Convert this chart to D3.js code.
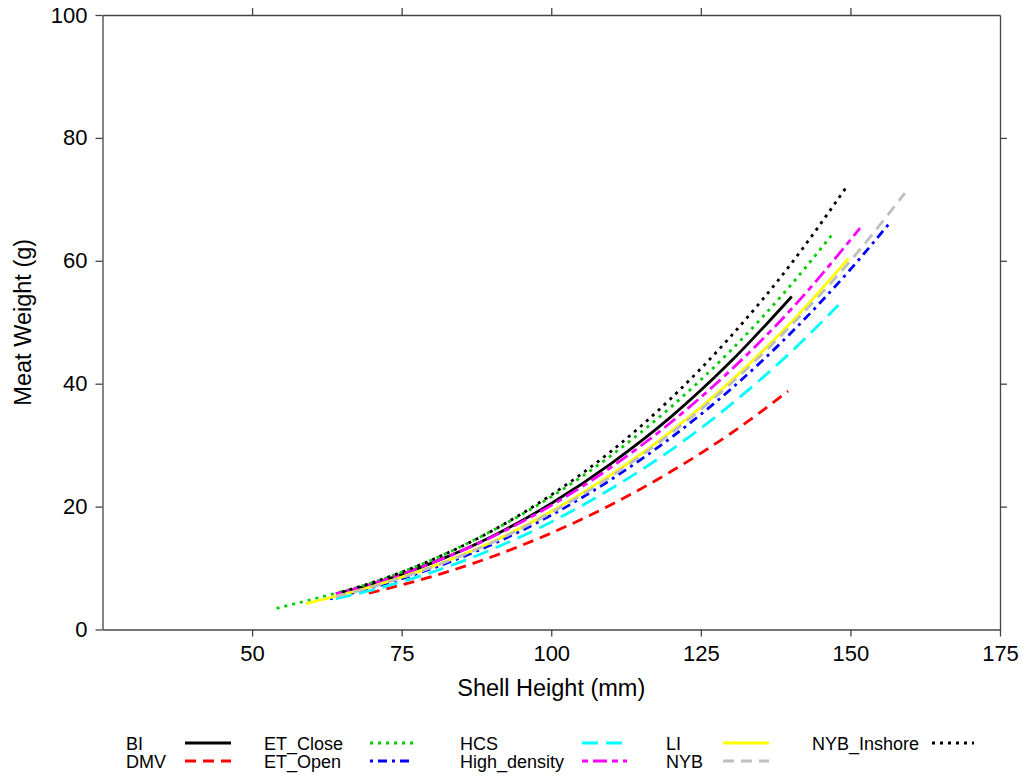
<!DOCTYPE html>
<html>
<head>
<meta charset="utf-8">
<script src="https://cdn.jsdelivr.net/npm/d3@7"></script>
<style>
  body { margin: 0; background: #fff; }
  text { font-family: "Liberation Sans", Arial, sans-serif; fill: #000; }
</style>
</head>
<body>
<div id="chart"></div>
<script>
// Séries : hauteur de coquille (mm) et poids de chair (g)
const groups = ["BI", "DMV", "ET_Close", "ET_Open", "HCS", "High_density", "LI", "NYB", "NYB_Inshore"];

const biH = [64, 70, 80, 90, 100, 110, 120, 130, 140.2];
const biW = [5.8, 7.35, 10.8, 15.1, 20.5, 27.0, 34.6, 43.6, 54.2];

const dmvH = [69.5, 80, 90, 100, 110, 120, 130, 139.6];
const dmvW = [5.9, 8.6, 11.8, 15.7, 20.3, 25.7, 31.9, 38.8];

const etCloseH = [54.1, 60, 70, 80, 90, 100, 110, 120, 130, 140, 146.8];
const etCloseW = [3.45, 4.9, 7.6, 11.3, 16.0, 21.6, 28.3, 36.2, 45.4, 56.0, 64.1];

const etOpenH = [63, 70, 80, 90, 100, 110, 120, 130, 140, 150, 156.6];
const etOpenW = [5.0, 6.8, 9.9, 13.8, 18.6, 24.4, 31.2, 39.1, 48.2, 58.6, 66.2];

const hcsH = [64, 70, 80, 90, 100, 110, 120, 130, 140, 148];
const hcsW = [5.0, 6.4, 9.3, 13.0, 17.5, 22.9, 29.2, 36.6, 45.1, 52.8];

const highDensityH = [64, 70, 80, 90, 100, 110, 120, 130, 140, 151.6];
const highDensityW = [5.8, 7.4, 10.8, 15.0, 20.2, 26.4, 33.7, 42.2, 52.0, 65.3];

const liH = [59, 70, 80, 90, 100, 110, 120, 130, 140, 149.7];
const liW = [4.2, 7.0, 10.2, 14.2, 19.2, 25.2, 32.2, 40.4, 49.9, 60.4];

const nybH = [64, 70, 80, 90, 100, 110, 120, 130, 140, 150, 159.1];
const nybW = [5.35, 6.9, 10.1, 14.1, 19.0, 24.9, 31.9, 40.0, 49.4, 60.0, 71.0];

const nybInshoreH = [65, 70, 80, 90, 100, 110, 120, 130, 140, 149.4];
const nybInshoreW = [6.1, 7.6, 11.3, 16.0, 21.9, 29.0, 37.6, 47.7, 59.4, 72.1];

const xTicks = [50, 75, 100, 125, 150, 175];
const yTicks = [0, 20, 40, 60, 80, 100];

const colors = ["#000000", "#ff0000", "#00cd00", "#0000ff", "#00ffff", "#ff00ff", "#ffff00", "#bebebe", "#000000"];
const dashes = ["none", "11,7", "3,5", "3,5,9,5", "16,8", "6,5,14,5", "none", "11,7", "3,5"];

const series = [
  [biH, biW], [dmvH, dmvW], [etCloseH, etCloseW], [etOpenH, etOpenW], [hcsH, hcsW],
  [highDensityH, highDensityW], [liH, liW], [nybH, nybW], [nybInshoreH, nybInshoreW]
].map(function(s, i) {
  return { name: groups[i], pts: s[0].map((h, j) => [h, s[1][j]]) };
});

const width = 1022, height = 776;
const margin = { top: 15, right: 22, bottom: 146.5, left: 102.5 };

const svg = d3.select("#chart").append("svg")
  .attr("width", width)
  .attr("height", height);

const x = d3.scaleLinear().domain([25, 175]).range([margin.left, width - margin.right]);
const y = d3.scaleLinear().domain([0, 100]).range([height - margin.bottom, margin.top]);

const axisColor = "#444";

function styleAxis(g, showText) {
  g.select(".domain").attr("stroke", axisColor).attr("stroke-width", 1.3);
  g.selectAll(".tick line").attr("stroke", axisColor).attr("stroke-width", 1.3);
  g.selectAll(".tick text").style("font-size", "22px");
  if (!showText) g.selectAll(".tick text").remove();
}

// Axes : bas et gauche avec libellés, haut et droite sans
svg.append("g")
  .attr("transform", `translate(0,${y(0)})`)
  .call(d3.axisBottom(x).tickValues(xTicks).tickSize(7).tickSizeOuter(0).tickPadding(9))
  .call(g => styleAxis(g, true));

svg.append("g")
  .attr("transform", `translate(0,${y(100)})`)
  .call(d3.axisTop(x).tickValues(xTicks.slice(0, 5)).tickSize(7).tickSizeOuter(0))
  .call(g => styleAxis(g, false));

svg.append("g")
  .attr("transform", `translate(${x(25)},0)`)
  .call(d3.axisLeft(y).tickValues(yTicks).tickSize(7).tickSizeOuter(0).tickPadding(8))
  .call(g => styleAxis(g, true));

svg.append("g")
  .attr("transform", `translate(${x(175)},0)`)
  .call(d3.axisRight(y).tickValues(yTicks.slice(1, 5)).tickSize(7).tickSizeOuter(0))
  .call(g => styleAxis(g, false));

// Titres des axes
svg.append("text")
  .attr("x", x(100))
  .attr("y", 696)
  .attr("text-anchor", "middle")
  .style("font-size", "23.5px")
  .text("Shell Height (mm)");

svg.append("text")
  .attr("transform", `translate(31,${y(50)}) rotate(-90)`)
  .attr("text-anchor", "middle")
  .style("font-size", "23.5px")
  .text("Meat Weight (g)");

// Courbes
const line = d3.line()
  .x(d => x(d[0]))
  .y(d => y(d[1]))
  .curve(d3.curveMonotoneX);

svg.append("g")
  .selectAll("path")
  .data(series)
  .enter()
  .append("path")
  .attr("d", d => line(d.pts))
  .attr("fill", "none")
  .attr("stroke", (d, i) => colors[i])
  .attr("stroke-width", 2.8)
  .attr("stroke-dasharray", (d, i) => dashes[i]);

// Légende : 5 colonnes, 2 lignes
const legCols = [
  { tx: 126, lx1: 185, lx2: 231 },
  { tx: 264, lx1: 370, lx2: 413 },
  { tx: 460, lx1: 582, lx2: 627 },
  { tx: 666, lx1: 723, lx2: 769 },
  { tx: 812, lx1: 932, lx2: 974 }
];
const legRows = [750, 768];

const legend = svg.append("g");
groups.forEach(function(name, i) {
  const c = legCols[Math.floor(i / 2)];
  const base = legRows[i % 2];
  legend.append("text")
    .attr("x", c.tx)
    .attr("y", base)
    .style("font-size", "18px")
    .text(name);
  legend.append("line")
    .attr("x1", c.lx1).attr("x2", c.lx2)
    .attr("y1", base - 7).attr("y2", base - 7)
    .attr("stroke", colors[i])
    .attr("stroke-width", 2.8)
    .attr("stroke-dasharray", dashes[i]);
});
</script>
</body>
</html>
